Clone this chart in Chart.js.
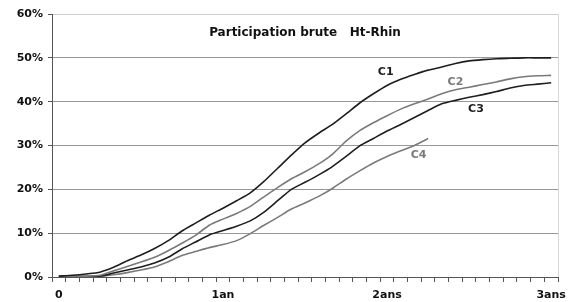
<!DOCTYPE html>
<html>
<head>
<meta charset="utf-8">
<script src="https://cdn.jsdelivr.net/npm/chart.js@4"></script>
<style>
    html, body { margin: 0; padding: 0; background: #fff; }
    canvas { display: block; }
</style>
</head>
<body>
<canvas id="participationChart" width="579" height="302"></canvas>
<script>
// Months 0 .. 36, labels only on whole years
const months = Array.from({ length: 37 }, (_, i) => i);
const yearLabels = { 0: '0', 12: '1an', 24: '2ans', 36: '3ans' };

// Cumulative participation (%)
const c1 = [0.2, 0.4, 0.7, 1.1, 2.2, 3.7, 5.0, 6.5, 8.3, 10.5, 12.3, 14.1, 15.7,
    17.4, 19.2, 21.8, 24.8, 27.8, 30.6, 32.8, 34.8, 37.2, 39.7, 41.8, 43.7,
    45.1, 46.2, 47.2, 47.9, 48.7, 49.3, 49.6, 49.8, 49.9, 50.0, 50.0, 50.0];
const c2 = [0.2, 0.2, 0.2, 0.4, 1.4, 2.4, 3.4, 4.5, 6.0, 7.7, 9.5, 11.8, 13.2,
    14.5, 16.1, 18.3, 20.4, 22.4, 24.0, 25.8, 28.0, 31.0, 33.4, 35.2, 36.8,
    38.3, 39.5, 40.6, 41.8, 42.7, 43.3, 43.9, 44.5, 45.2, 45.7, 45.9, 46.0];
const c3 = [0.1, 0.1, 0.1, 0.2, 0.9, 1.6, 2.3, 3.2, 4.5, 6.4, 8.0, 9.6, 10.6,
    11.6, 12.8, 14.8, 17.4, 20.0, 21.6, 23.3, 25.2, 27.5, 29.9, 31.6, 33.3,
    34.8, 36.4, 38.0, 39.5, 40.3, 41.0, 41.6, 42.3, 43.1, 43.7, 44.0, 44.3];
const c4 = [0.0, 0.0, 0.1, 0.1, 0.5, 1.0, 1.6, 2.3, 3.5, 4.9, 5.8, 6.7, 7.4,
    8.3, 9.9, 11.8, 13.6, 15.5, 16.9, 18.4, 20.2, 22.3, 24.2, 26.0, 27.5,
    28.8, 30.0, 31.6];

const seriesNames = ['C1', 'C2', 'C3', 'C4'];
const seriesColors = ['#1e1e1e', '#7a7a7a', '#1e1e1e', '#7a7a7a'];

// Curve labels: [month, value] where the name sits
const curveLabelPos = [[23.9, 46.7], [29.0, 44.4], [30.5, 38.4], [26.3, 27.9]];

const titleText = 'Participation brute   Ht-Rhin';
const font = 'DejaVu Sans';

// Draws the inner title, curve names and the right border
const annotations = {
    id: 'annotations',
    afterDatasetsDraw(chart) {
        const { ctx, chartArea, scales } = chart;
        ctx.save();

        ctx.strokeStyle = '#d8d8d8';
        ctx.lineWidth = 1;
        ctx.beginPath();
        ctx.moveTo(Math.round(chartArea.right) + 0.5, chartArea.top);
        ctx.lineTo(Math.round(chartArea.right) + 0.5, chartArea.bottom);
        ctx.stroke();

        ctx.textAlign = 'center';
        ctx.textBaseline = 'middle';
        ctx.fillStyle = '#111';
        ctx.font = 'bold 12px "' + font + '"';
        ctx.fillText(titleText, (chartArea.left + chartArea.right) / 2, chartArea.top + 19);

        ctx.font = 'bold 11px "' + font + '"';
        seriesNames.forEach((name, i) => {
            const [m, v] = curveLabelPos[i];
            const x = scales.x.getPixelForValue(0) + m * (scales.x.getPixelForValue(1) - scales.x.getPixelForValue(0));
            ctx.fillStyle = seriesColors[i];
            ctx.fillText(name, x, scales.y.getPixelForValue(v));
        });
        ctx.restore();
    }
};

const datasets = [c1, c2, c3, c4].map((values, i) => ({
    label: seriesNames[i],
    data: values,
    borderColor: seriesColors[i],
    borderWidth: 1.6,
    pointRadius: 0,
    tension: 0.2,
    fill: false
}));

new Chart(document.getElementById('participationChart'), {
    type: 'line',
    data: {
        labels: months,
        datasets: datasets
    },
    options: {
        responsive: false,
        animation: false,
        layout: {
            padding: { top: 14, right: 21, left: 0, bottom: 0 }
        },
        plugins: {
            legend: { display: false },
            tooltip: { enabled: false }
        },
        scales: {
            x: {
                type: 'category',
                offset: true,
                grid: {
                    offset: true,
                    drawOnChartArea: false,
                    tickColor: '#555',
                    tickLength: 5
                },
                border: { color: '#555', width: 1 },
                ticks: {
                    autoSkip: false,
                    maxRotation: 0,
                    padding: 7,
                    color: '#111',
                    font: { family: font, weight: 'bold', size: 11 },
                    callback: function (value, index) {
                        return yearLabels[index] !== undefined ? yearLabels[index] : '';
                    }
                },
                afterFit: function (scale) {
                    scale.height = 25;
                }
            },
            y: {
                min: 0,
                max: 60,
                grid: {
                    color: function (context) {
                        return context.tick && context.tick.value === 60 ? '#cfcfcf' : '#999';
                    },
                    tickColor: '#555',
                    tickLength: 4
                },
                border: { color: '#555', width: 1 },
                ticks: {
                    stepSize: 10,
                    padding: 5,
                    color: '#111',
                    font: { family: font, weight: 'bold', size: 11 },
                    callback: function (value) {
                        return value + '%';
                    }
                },
                afterFit: function (scale) {
                    scale.width = 52;
                }
            }
        }
    },
    plugins: [annotations]
});
</script>
</body>
</html>
